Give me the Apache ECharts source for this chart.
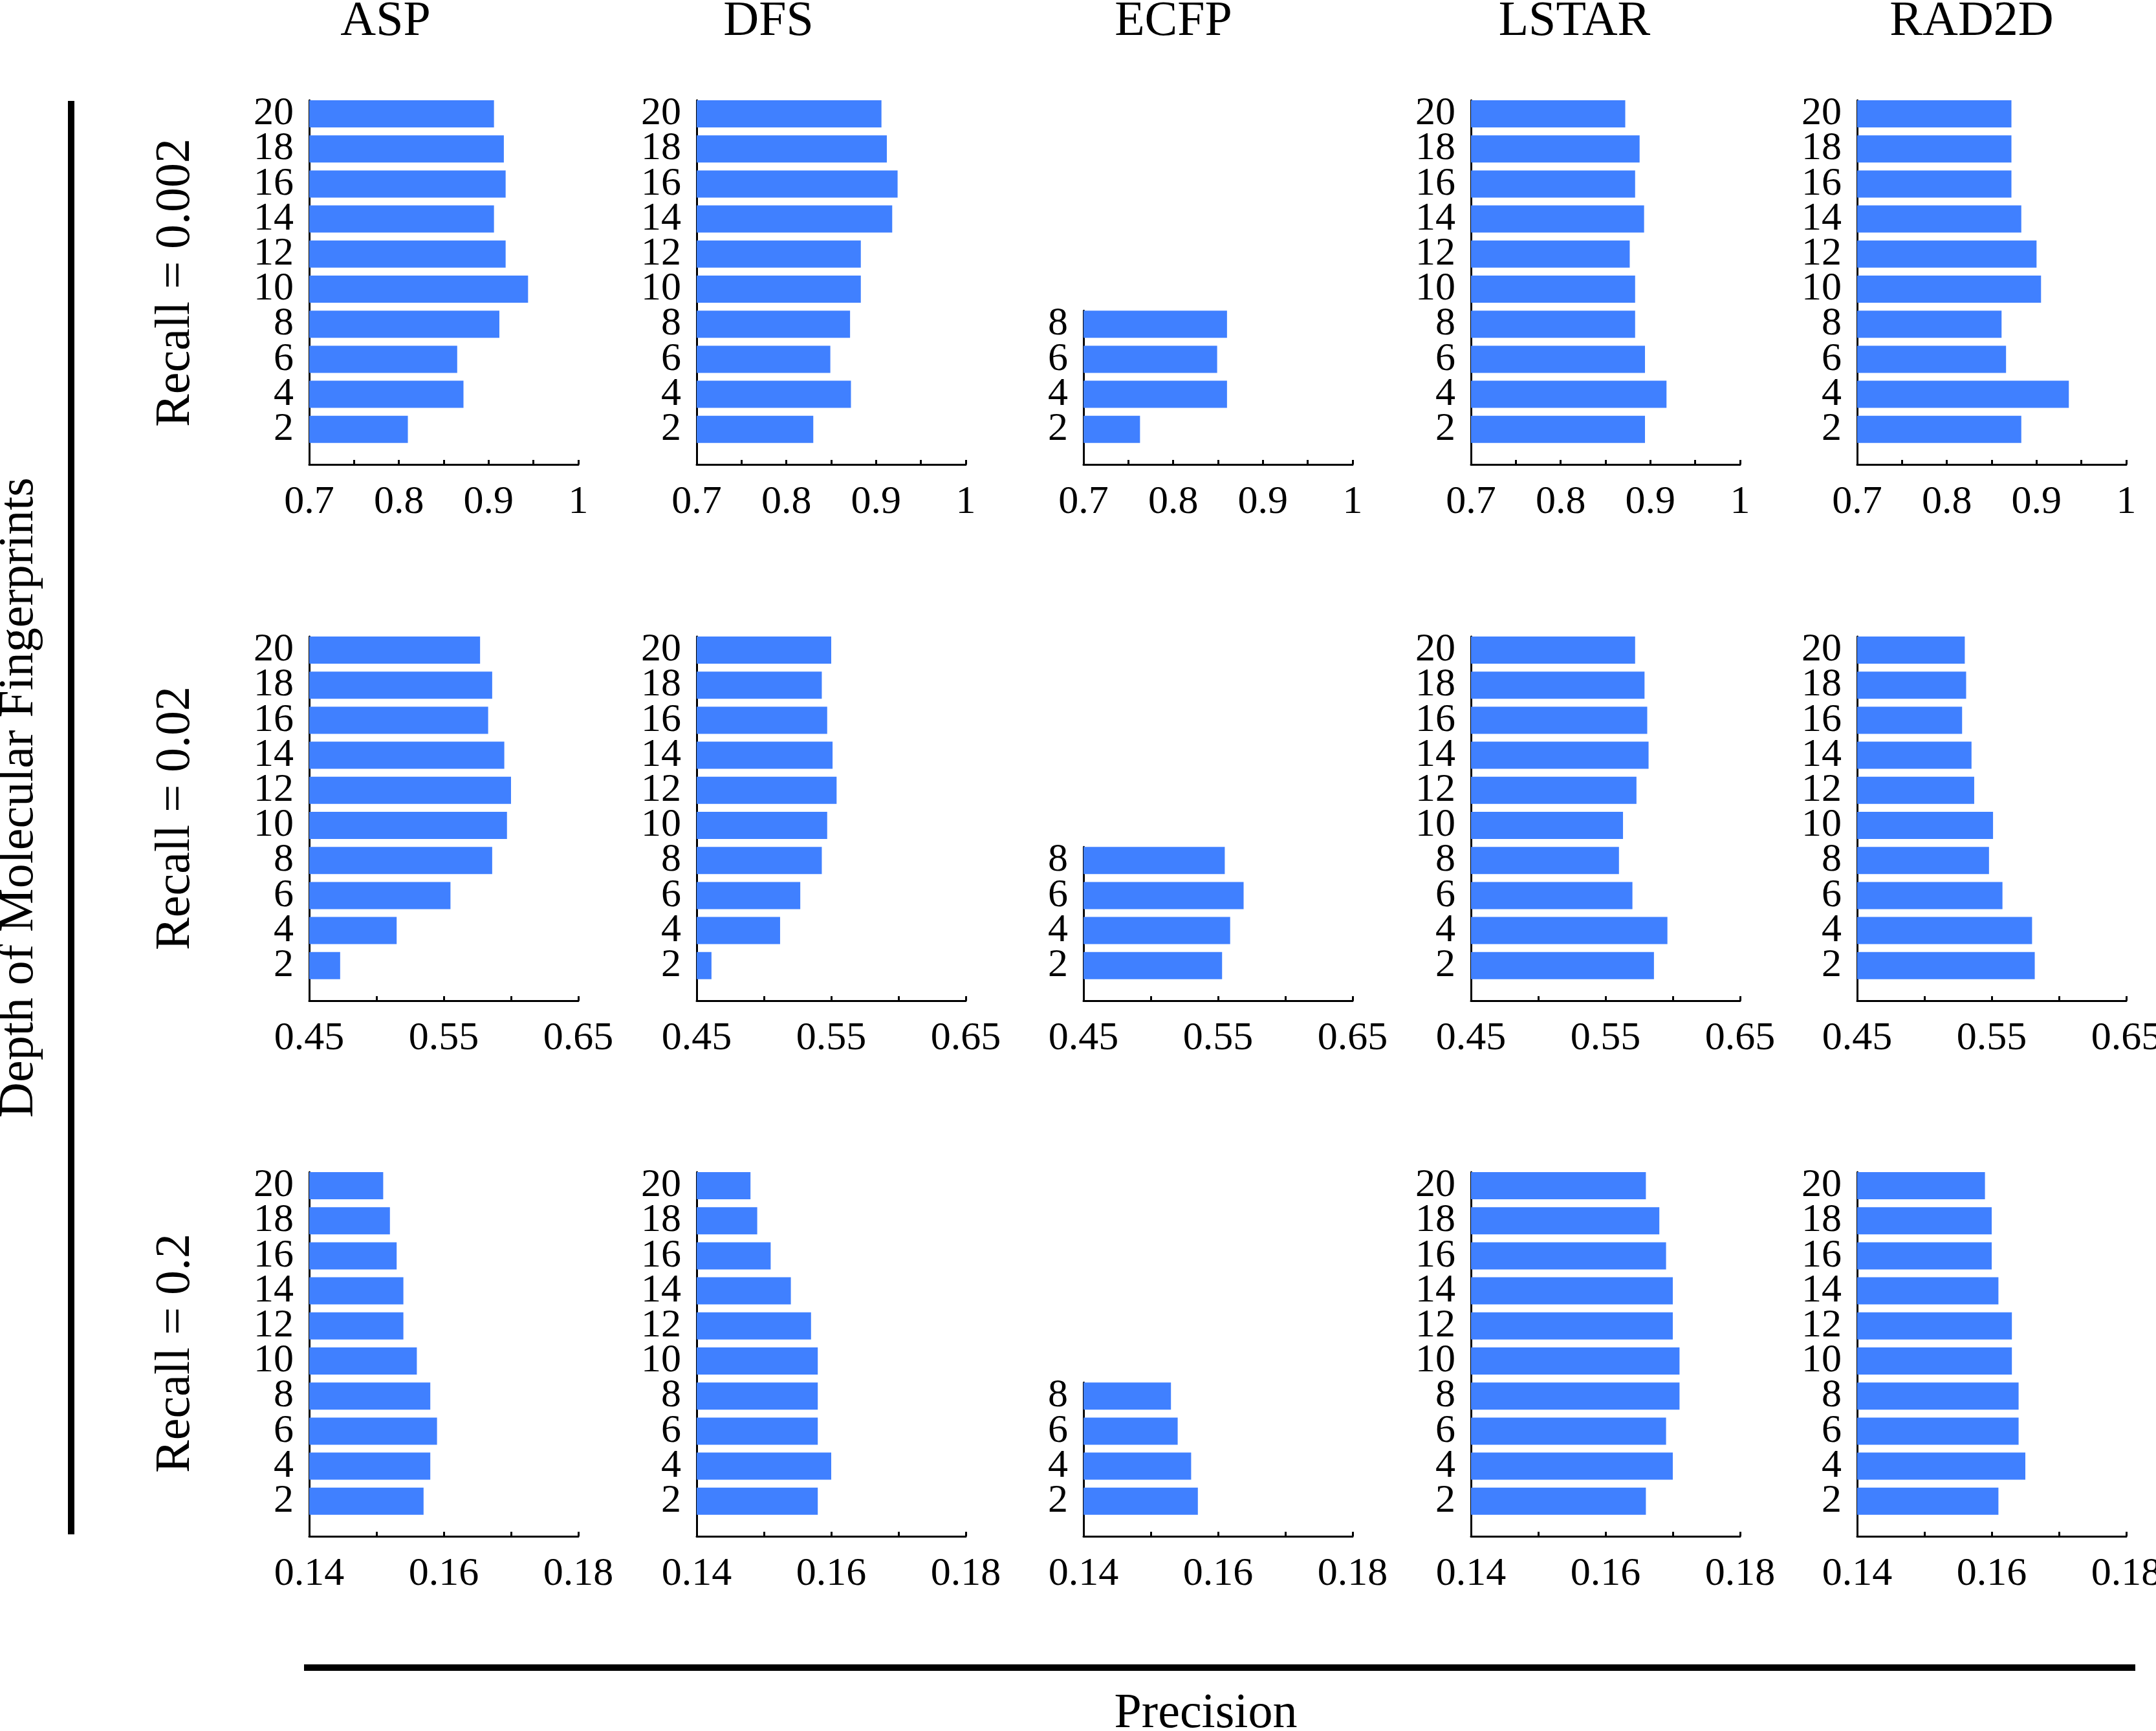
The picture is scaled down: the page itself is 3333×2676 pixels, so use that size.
<!DOCTYPE html>
<html><head><meta charset="utf-8">
<script src="https://cdn.jsdelivr.net/npm/echarts@6/dist/echarts.min.js"></script>
<style>html,body{margin:0;padding:0;background:#fff}#c{width:3333px;height:2676px}</style>
</head><body><div id="c"></div>
<script>
// ---------- data ----------
const methods = ['ASP', 'DFS', 'ECFP', 'LSTAR', 'RAD2D'];
const recallLabels = ['Recall = 0.002', 'Recall = 0.02', 'Recall = 0.2'];
const depthsFull = [2, 4, 6, 8, 10, 12, 14, 16, 18, 20];
const depthsECFP = [2, 4, 6, 8];

// precision x-axis per recall row
const xMins = [0.7, 0.45, 0.14];
const xMaxs = [1.0, 0.65, 0.18];
const xSteps = [0.05, 0.05, 0.01];
const xTickLabels0 = ['0.7', '0.8', '0.9', '1'];
const xTickLabels1 = ['0.45', '0.55', '0.65'];
const xTickLabels2 = ['0.14', '0.16', '0.18'];

// values in depth order 2,4,...,20   (Recall = 0.002)
const asp_r002   = [0.810, 0.872, 0.865, 0.912, 0.944, 0.919, 0.906, 0.919, 0.917, 0.906];
const dfs_r002   = [0.830, 0.872, 0.849, 0.871, 0.883, 0.883, 0.918, 0.924, 0.912, 0.906];
const ecfp_r002  = [0.763, 0.860, 0.849, 0.860];
const lstar_r002 = [0.894, 0.918, 0.894, 0.883, 0.883, 0.877, 0.893, 0.883, 0.888, 0.872];
const rad2d_r002 = [0.883, 0.936, 0.866, 0.861, 0.905, 0.900, 0.883, 0.872, 0.872, 0.872];
// Recall = 0.02
const asp_r02   = [0.473, 0.515, 0.555, 0.586, 0.597, 0.600, 0.595, 0.583, 0.586, 0.577];
const dfs_r02   = [0.461, 0.512, 0.527, 0.543, 0.547, 0.554, 0.551, 0.547, 0.543, 0.550];
const ecfp_r02  = [0.553, 0.559, 0.569, 0.555];
const lstar_r02 = [0.586, 0.596, 0.570, 0.560, 0.563, 0.573, 0.582, 0.581, 0.579, 0.572];
const rad2d_r02 = [0.582, 0.580, 0.558, 0.548, 0.551, 0.537, 0.535, 0.528, 0.531, 0.530];
// Recall = 0.2
const asp_r2   = [0.157, 0.158, 0.159, 0.158, 0.156, 0.154, 0.154, 0.153, 0.152, 0.151];
const dfs_r2   = [0.158, 0.160, 0.158, 0.158, 0.158, 0.157, 0.154, 0.151, 0.149, 0.148];
const ecfp_r2  = [0.157, 0.156, 0.154, 0.153];
const lstar_r2 = [0.166, 0.170, 0.169, 0.171, 0.171, 0.170, 0.170, 0.169, 0.168, 0.166];
const rad2d_r2 = [0.161, 0.165, 0.164, 0.164, 0.163, 0.163, 0.161, 0.160, 0.160, 0.159];

// ---------- assembly ----------
const rowsValues = [
  [asp_r002, dfs_r002, ecfp_r002, lstar_r002, rad2d_r002],
  [asp_r02, dfs_r02, ecfp_r02, lstar_r02, rad2d_r02],
  [asp_r2, dfs_r2, ecfp_r2, lstar_r2, rad2d_r2]
];
const xTickLabels = [xTickLabels0, xTickLabels1, xTickLabels2];

// layout (pixels) and style
const FONT = 'Liberation Serif';
const BAR_COLOR = '#4080ff';
const BAR_SPAN = 1.55;              // bar thickness in depth units
const colLeft = [478, 1077, 1675, 2274, 2871];
const gridW = 416;
const rowBottom = [718, 1547, 2375];
const fullH = 563;
const topDepth = 20 + BAR_SPAN / 2;

const grids = [], xAxes = [], yAxes = [], series = [];
function fmtNum(v) { return String(+(+v).toFixed(3)); }

function makeRender(x0) {
  return function (params, api) {
    const v = api.value(0), d = api.value(1);
    const p0 = api.coord([x0, d]);
    const p1 = api.coord([v, d]);
    const h = api.size([0, BAR_SPAN])[1];
    return {
      type: 'rect',
      shape: { x: p0[0], y: p0[1] - h / 2, width: p1[0] - p0[0], height: h },
      style: { fill: BAR_COLOR }
    };
  };
}

for (let r = 0; r < 3; r++) {
  for (let c = 0; c < 5; c++) {
    const idx = r * 5 + c;
    const depths = methods[c] === 'ECFP' ? depthsECFP : depthsFull;
    const maxD = depths[depths.length - 1] + BAR_SPAN / 2;
    const h = fullH * maxD / topDepth;
    grids.push({ left: colLeft[c], top: rowBottom[r] - h, width: gridW, height: h, outerBoundsMode: 'none', containLabel: false });
    const labs = xTickLabels[r];
    xAxes.push({
      gridIndex: idx, type: 'value', min: xMins[r], max: xMaxs[r], interval: xSteps[r],
      axisLine: { show: true, onZero: false, lineStyle: { color: '#000', width: 3 } },
      axisTick: { show: true, inside: true, length: 7, lineStyle: { color: '#000', width: 3 } },
      splitLine: { show: false },
      axisLabel: {
        show: true, margin: 28, fontSize: 62, fontFamily: FONT, color: '#000',
        formatter: function (v) { const s = fmtNum(v); return labs.indexOf(s) >= 0 ? s : ''; }
      }
    });
    const dl = depths.map(String);
    yAxes.push({
      gridIndex: idx, type: 'value', min: 0, max: maxD, interval: 2,
      axisLine: { show: true, onZero: false, lineStyle: { color: '#000', width: 3 } },
      axisTick: { show: false }, splitLine: { show: false },
      axisLabel: {
        show: true, margin: 24, fontSize: 62, fontFamily: FONT, color: '#000',
        formatter: function (v) { const s = fmtNum(v); return dl.indexOf(s) >= 0 ? s : ''; }
      }
    });
    const vals = rowsValues[r][c];
    series.push({
      type: 'custom', name: methods[c] + ' ' + recallLabels[r],
      xAxisIndex: idx, yAxisIndex: idx,
      renderItem: makeRender(xMins[r]),
      encode: { x: 0, y: 1 },
      data: vals.map((v, i) => [v, depths[i]]),
      silent: true, animation: false
    });
  }
}

// text and decorations
const titleX = [596, 1188, 1814, 2434, 3048];
const graphics = [];
methods.forEach((m, i) => graphics.push({
  type: 'text', x: titleX[i], y: 34,
  style: { text: m, font: '76px ' + FONT, fill: '#000', textAlign: 'center', textVerticalAlign: 'middle' }
}));
const rowCenters = [437, 1265, 2092];
recallLabels.forEach((t, i) => graphics.push({
  type: 'text', x: 272, y: rowCenters[i], rotation: Math.PI / 2,
  style: { text: t, font: '76px ' + FONT, fill: '#000', textAlign: 'center', textVerticalAlign: 'middle' }
}));
graphics.push({
  type: 'text', x: 30, y: 1233, rotation: Math.PI / 2,
  style: { text: 'Depth of Molecular Fingerprints', font: '76px ' + FONT, fill: '#000', textAlign: 'center', textVerticalAlign: 'middle' }
});
graphics.push({
  type: 'text', x: 1864, y: 2650,
  style: { text: 'Precision', font: '76px ' + FONT, fill: '#000', textAlign: 'center', textVerticalAlign: 'middle' }
});
graphics.push({ type: 'line', shape: { x1: 110, y1: 156, x2: 110, y2: 2372 }, style: { stroke: '#000', lineWidth: 10 } });
graphics.push({ type: 'line', shape: { x1: 470, y1: 2578, x2: 3301, y2: 2578 }, style: { stroke: '#000', lineWidth: 10 } });

const chart = echarts.init(document.getElementById('c'), null, { renderer: 'canvas' });
chart.setOption({
  backgroundColor: '#fff',
  animation: false,
  textStyle: { fontFamily: FONT },
  grid: grids, xAxis: xAxes, yAxis: yAxes, series: series,
  graphic: { elements: graphics }
});
</script></body></html>
